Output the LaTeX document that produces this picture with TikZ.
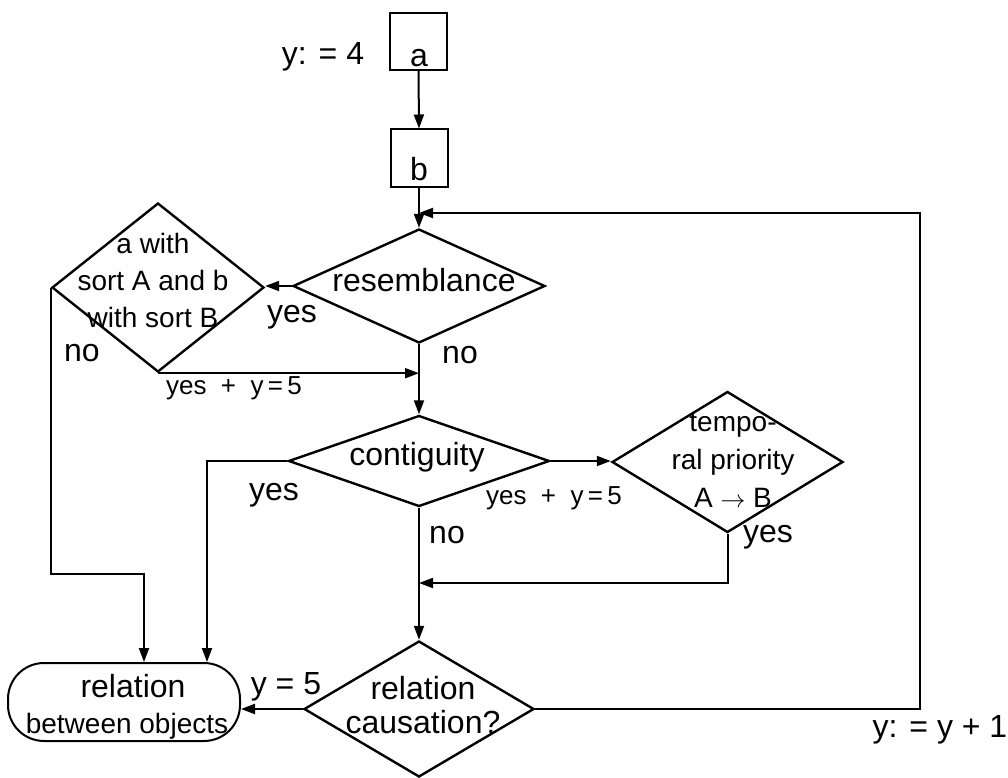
\documentclass[tikz,border=0pt]{standalone}
\usepackage{fontspec}
\setmainfont{Liberation Sans}
\usetikzlibrary{shapes.geometric,arrows.meta}

\begin{document}
\begin{tikzpicture}[x=1pt,y=-1pt,
  line width=2pt,
  arr/.style={-{Triangle[length=14pt,width=10pt]}},
  box/.style={draw,rectangle,minimum width=57pt,minimum height=57pt,inner sep=0pt},
  decision/.style={draw,diamond,inner sep=0pt,line width=2.4pt},
  terminal/.style={draw,rectangle,rounded corners=36pt,minimum width=232pt,minimum height=78pt,inner sep=0pt},
  big/.style={font=\fontsize{32}{34}\selectfont,inner sep=0pt,align=center},
  mid/.style={font=\fontsize{28}{37}\selectfont,inner sep=0pt,align=center},
  small/.style={font=\fontsize{26}{30}\selectfont,inner sep=0pt},
]
\fill[white] (0,0) rectangle (1008,778);
\useasboundingbox (0,0) rectangle (1008,778);

% start boxes
\node[box] (a) at (418.5,41.5) {};
\node[big] (ta) at (419,58) {a};
\node[big] (y4) at (323,57) {y: = 4};
\node[box] (b) at (419,158) {};
\node[big] (tb) at (419,169) {b};

% decisions
\node[decision,minimum width=252pt,minimum height=114pt] (res) at (419,286) {};
\node[big] (tres) at (424,280) {resemblance};

\node[decision,minimum width=212pt,minimum height=169pt] (srt) at (158,287.5) {};
\node[mid] (tsrt) at (153,280) {a with\\sort A and b\\with sort B};

\node[decision,minimum width=261pt,minimum height=91pt] (con) at (419,461) {};
\node[big] (tcon) at (417,457) {contiguity};

\node[decision,minimum width=231pt,minimum height=141pt] (tmp) at (727.5,462) {};
\node[mid,font=\fontsize{28}{38}\selectfont] (ttmp) at (733,460) {tempo-\\ral priority\\A $\rightarrow$ B};

\node[decision,minimum width=230pt,minimum height=136pt] (cau) at (419,709) {};
\node[big] (tcau) at (423,705) {relation\\causation?};

% result
\node[terminal] (rel) at (124,702) {};
\node[big] (trel1) at (133,686) {relation};
\node[mid] (trel2) at (127,726) {between objects};

% bend points
\coordinate (fb) at (419,213);
\coordinate (loop) at (920,213);
\coordinate (c1) at (144,574);
\coordinate (m2) at (419,583);

% connectors
\draw[arr] (a.south) -- (b.north);
\draw[arr] (b.south) -- (res.north);
\draw[arr] (cau.east) -| (loop) -- (fb);
\draw[arr] (res.west) -- (res.west -| srt.east);
\draw[arr] (srt.south) -- (srt.south -| res.south);
\draw[arr] (res.south) -- (con.north);
\draw[arr] (srt.west) |- (c1) -- (144,0 |- rel.north);
\draw[arr] (con.west) -| (207,0 |- rel.north);
\draw[arr] (con.east) -- (con.east -| tmp.west);
\draw[arr] (con.south) -- (cau.north);
\draw[arr] (tmp.south) |- (m2);
\draw[arr] (cau.west) -- (cau.west -| rel.east);

% branch labels
\node[big] (l1) at (292,317) {yes};
\node[big] (l2) at (82,353) {no};
\node[big] (l3) at (460,355) {no};
\node[small] (l4) at (234,388) {yes~~+~~y\,=\,5};
\node[big] (l5) at (274,495) {yes};
\node[small] (l6) at (554,498) {yes~~+~~y\,=\,5};
\node[big] (l7) at (447,535) {no};
\node[big] (l8) at (768,537) {yes};
\node[big] (l9) at (286,687) {y = 5};
\node[big] (l10) at (940,730) {y: = y + 1};
\end{tikzpicture}
\end{document}
